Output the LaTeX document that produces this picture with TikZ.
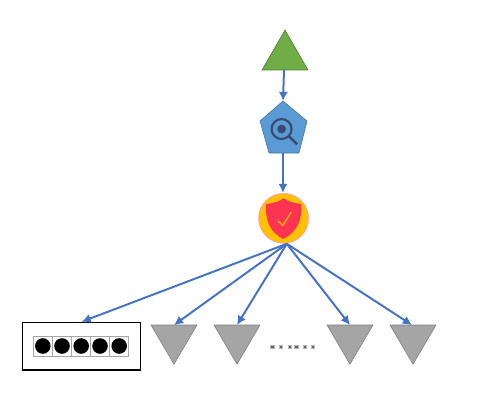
\documentclass[tikz,border=0pt]{standalone}
\usetikzlibrary{arrows.meta}
\definecolor{freccia}{HTML}{4472C4}
\definecolor{verde}{HTML}{70AD47}
\definecolor{azzurro}{HTML}{5B9BD5}
\definecolor{lente}{HTML}{3A4A6E}
\definecolor{oro}{HTML}{FFC000}
\definecolor{scudo}{HTML}{FF3352}
\definecolor{grigio}{HTML}{A5A5A5}
\tikzset{
  conn/.style={-{Latex[length=6.5pt,width=6.5pt]},freccia,line width=1.4pt},
  gray tri/.style={fill=grigio,draw=grigio!75!black,thin},
  cella/.style={draw=grigio,fill=white,line width=0.7pt},
  pallino/.style={fill=black},
  puntino/.style={fill=grigio!60!black,draw=grigio!80!white,line width=0.5pt}
}
\begin{document}
\begin{tikzpicture}
    \useasboundingbox (0,0) rectangle (11.925,10.125);
    % Punti
    \coordinate (rootbot) at (7.1,8.375);
    \coordinate (pentop) at (7.075,7.6);
    \coordinate (penbot) at (7.075,6.3);
    \coordinate (hubtop) at (7.075,5.3);
    \coordinate (hubbot) at (7.17,4.03);
    \coordinate (leaf1) at (4.35,2);
    \coordinate (leaf2) at (5.925,2);
    \coordinate (leaf3) at (8.75,2);
    \coordinate (leaf4) at (10.3,2);
    % Radice
    \draw [fill=verde,draw=verde!70!black,thin] (7.125,9.375) -- (6.55,8.375) -- (7.7,8.375) -- cycle;
    % Pentagono
    \draw [fill=azzurro,draw=azzurro!75!black,thin] (pentop) -- (7.675,7.1) -- (7.475,6.3) -- (6.725,6.3) -- (6.5,7.1) -- cycle;
    \draw [lente,line width=1.5pt] (7.04,6.9) circle (0.25);
    \fill [lente] (7.04,6.9) circle (0.11);
    \draw [lente,line width=1.8pt] (7.22,6.72) -- (7.43,6.52);
    % Scudo
    \node (hub) [circle,fill=oro,draw=magenta!40,thin,minimum size=1.25cm,inner sep=0pt] at (7.09,4.667) {};
    \fill [scudo] (7.09,5.17) .. controls (6.95,5.06) and (6.85,5.06) .. (6.65,5.02) .. controls (6.63,4.6) and (6.75,4.32) .. (7.08,4.15) .. controls (7.42,4.32) and (7.55,4.6) .. (7.53,5.02) .. controls (7.33,5.06) and (7.23,5.06) .. (7.09,5.17);
    \draw [oro,line width=0.9pt] (6.95,4.6) -- (7.07,4.49) -- (7.28,4.82);
    % Scatola
    \node (box) [draw,fill=white,line width=0.9pt,minimum width=2.96cm,minimum height=1.19cm,inner sep=0pt] at (2.04,1.47) {};
    \draw [cella] (0.83,1.225) rectangle (1.3,1.725);
    \draw [cella] (1.3,1.225) rectangle (1.79,1.725);
    \draw [cella] (1.79,1.225) rectangle (2.27,1.725);
    \draw [cella] (2.27,1.225) rectangle (2.74,1.725);
    \draw [cella] (2.74,1.225) rectangle (3.22,1.725);
    \fill [pallino] (1.07,1.475) circle (0.195);
    \fill [pallino] (1.55,1.475) circle (0.195);
    \fill [pallino] (2.03,1.475) circle (0.195);
    \fill [pallino] (2.5,1.475) circle (0.195);
    \fill [pallino] (2.98,1.475) circle (0.195);
    % Triangoli
    \draw [gray tri] (3.775,2) -- (4.925,2) -- (4.35,1.02) -- cycle;
    \draw [gray tri] (5.35,2) -- (6.5,2) -- (5.925,1.02) -- cycle;
    \draw [gray tri] (8.175,2) -- (9.325,2) -- (8.75,1.02) -- cycle;
    \draw [gray tri] (9.75,2) -- (10.9,2) -- (10.325,1.02) -- cycle;
    % Puntini
    \draw [puntino] (6.77,1.41) rectangle ++(0.08,0.08);
    \draw [puntino] (6.99,1.41) rectangle ++(0.08,0.08);
    \draw [puntino] (7.2,1.41) rectangle ++(0.08,0.08);
    \draw [puntino] (7.37,1.41) rectangle ++(0.08,0.08);
    \draw [puntino] (7.58,1.41) rectangle ++(0.08,0.08);
    \draw [puntino] (7.79,1.41) rectangle ++(0.08,0.08);
    % Frecce
    \draw [conn] (rootbot) -- (pentop);
    \draw [conn] (penbot) -- (hubtop);
    \draw [conn] (hubbot) -- (box.north);
    \draw [conn] (hubbot) -- (leaf1);
    \draw [conn] (hubbot) -- (leaf2);
    \draw [conn] (hubbot) -- (leaf3);
    \draw [conn] (hubbot) -- (leaf4);
\end{tikzpicture}
\end{document}
